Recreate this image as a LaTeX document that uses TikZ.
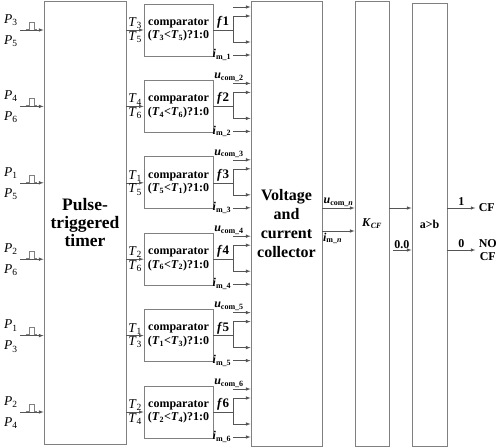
\documentclass[tikz,border=0pt]{standalone}
\usepackage{fontspec}
\setmainfont{Liberation Serif}
\usetikzlibrary{calc}
\definecolor{linegray}{HTML}{808080}
\definecolor{arrowgray}{HTML}{555555}

\tikzset{
	block/.style={draw=linegray,line width=0.9pt,align=center,inner sep=0pt},
	cmp/.style={draw=linegray,line width=0.8pt,minimum width=69,minimum height=52,align=center,inner sep=0pt,font=\fontsize{12}{13.5}\selectfont\bfseries},
	wire/.style={draw=arrowgray,line width=0.6pt},
	sig/.style={wire,-latex},
	pulse/.style={draw=linegray,line width=0.5pt},
	plbl/.style={anchor=east,xshift=-1pt,inner sep=1pt,font=\fontsize{13.5}{13.5}\selectfont},
	tlbl/.style={inner sep=1pt,font=\fontsize{13.5}{13.5}\selectfont},
	flbl/.style={above,inner sep=1.5pt,font=\fontsize{13}{13}\selectfont\bfseries},
	ulbl/.style={anchor=south,xshift=-4pt,inner sep=1.5pt,font=\fontsize{12}{12}\selectfont\bfseries},
	ilbl/.style={anchor=east,inner sep=1.5pt,font=\fontsize{12}{12}\selectfont\bfseries},
	olbl/.style={inner sep=2pt,font=\fontsize{12}{13}\selectfont\bfseries}
}

\begin{document}
\begin{tikzpicture}[x=1pt,y=-1pt]
	\useasboundingbox (0,0) rectangle (500,447);
	\node[block,minimum width=82,minimum height=443,font=\fontsize{17.5}{18}\selectfont\bfseries] (timer) at (85,222.5) {Pulse-\\triggered\\timer};
	\node[block,minimum width=71,minimum height=445,font=\fontsize{16}{19}\selectfont\bfseries] (coll) at (286.5,223.5) {Voltage\\and\\current\\collector};
	\node[block,minimum width=34,minimum height=445,font=\fontsize{12}{14}\selectfont\bfseries] (kcf) at (372,223.5) {\textit{K}\textsubscript{\textit{CF}}};
	\node[block,minimum width=35,minimum height=443,font=\fontsize{12}{14}\selectfont\bfseries] (ab) at (429.5,224.5) {a>b};

	\foreach \k/\a/\b/\x/\y in {1/3/5/3/5,2/4/6/4/6,3/1/5/5/1,4/2/6/6/2,5/1/3/1/3,6/2/4/2/4}{
		\pgfmathsetmacro\c{30+76.4*(\k-1)}
		\node[cmp] (cmp\k) at (178.5,\c) {comparator\\(\textit{T}\textsubscript{\x}<\textit{T}\textsubscript{\y})?1:0};
		\coordinate (p\k) at (20,\c);
		\coordinate (f\k) at (233,\c);
		\draw[sig] (p\k) node[plbl,yshift=10pt]{\textit{P}\textsubscript{\a}} node[plbl,yshift=-11pt]{\textit{P}\textsubscript{\b}} -- (p\k-|timer.west);
		\draw[pulse] ([shift={(6,-1)}]p\k) -- ++(3,0) -- ++(0,-7) -- ++(5,0) -- ++(0,7) -- ++(3,0);
		\draw[sig] (cmp\k-|timer.east) -- node[tlbl,above]{\textit{T}\textsubscript{\a}} node[tlbl,below]{\textit{T}\textsubscript{\b}} (cmp\k);
		\draw[wire] (cmp\k) -- node[flbl]{\textit{f}\k} (f\k);
		\draw[sig] (f\k) |- ($(f\k-|coll.west)+(0,-14)$);
		\draw[sig] (f\k) |- ($(f\k-|coll.west)+(0,12)$);
		\draw[sig] ($(f\k)+(0,-23)$) node[ulbl]{\ifnum\k>1 \textit{u}\textsubscript{com\_\k}\fi} -- ($(f\k-|coll.west)+(0,-23)$);
		\draw[sig] ($(f\k)+(0,25)$) node[ilbl]{\textit{i}\textsubscript{m\_\k}} -- ($(f\k-|coll.west)+(0,25)$);
	}

	\coordinate (un) at ([yshift=15.5pt]coll.east);
	\coordinate (im) at ([yshift=-7.5pt]coll.east);
	\draw[sig] (un) -- node[ulbl,xshift=4pt]{\textit{u}\textsubscript{com\_\textit{n}}} (un-|kcf.west);
	\draw[sig] (im) -- node[ilbl,anchor=north,xshift=-6pt]{\textit{i}\textsubscript{m\_\textit{n}}} (im-|kcf.west);
	\coordinate (kf) at ([yshift=15.5pt]kcf.east);
	\draw[sig] (kf) -- (kf-|ab.west);
	\coordinate (zr) at (393,250);
	\draw[sig] (zr) node[olbl,anchor=south west,inner sep=1pt]{0.0} -- (zr-|ab.west);
	\coordinate (o1) at (ab.east|-kf);
	\coordinate (o0) at (ab.east|-zr);
	\draw[sig] (o1) -- node[olbl,above]{1} ++(28,0) node[olbl,right,inner sep=3pt] (cf) {CF};
	\draw[sig] (o0) -- node[olbl,above]{0} ++(28,0) node[olbl,right,align=center,inner sep=3pt] (nocf) {NO\\CF};
\end{tikzpicture}
\end{document}
